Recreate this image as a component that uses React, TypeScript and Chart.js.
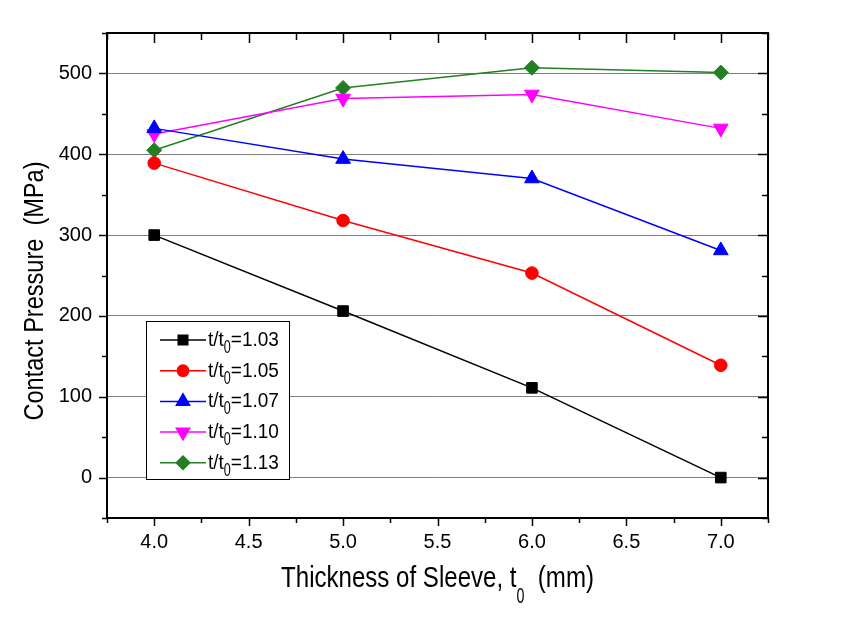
import React, { useEffect, useRef } from 'react';
import { Chart, registerables } from 'chart.js';
import { drawPoint } from 'chart.js/helpers';

Chart.register(...registerables);

// ---- data ----
const thickness = [4.0, 5.0, 6.0, 7.0];
const ratio103 = [300, 206, 111, 0];
const ratio105 = [389, 318, 253, 139];
const ratio107 = [432, 394, 370, 281];
const ratio110 = [425, 469, 474, 432];
const ratio113 = [405, 482, 507, 501];
const seriesValues = [ratio103, ratio105, ratio107, ratio110, ratio113];
const seriesRatios = ['1.03', '1.05', '1.07', '1.10', '1.13'];

const xMajorTicks = [4.0, 4.5, 5.0, 5.5, 6.0, 6.5, 7.0];
const xMinorTicks = [3.75, 4.25, 4.75, 5.25, 5.75, 6.25, 6.75, 7.25];
const yMajorTicks = [0, 100, 200, 300, 400, 500];
const yMinorTicks = [-50, 50, 150, 250, 350, 450, 550];
const xRange = [3.75, 7.25];
const yRange = [-50, 550];

const xTitleParts = ['Thickness of Sleeve, t', '0', '  (mm)'];
const yTitleText = 'Contact Pressure  (MPa)';
const legendPrefix = ['t/t', '0', '='];

// ---- styles ----
const seriesStyles = [
  { color: '#000000', pointStyle: 'rect', radius: 7.5, rotation: 0 },
  { color: '#ff0000', pointStyle: 'circle', radius: 6.3, rotation: 0 },
  { color: '#0000ff', pointStyle: 'triangle', radius: 8.5, rotation: 0 },
  { color: '#ff00ff', pointStyle: 'triangle', radius: 8.5, rotation: 180 },
  { color: '#237f23', pointStyle: 'rectRot', radius: 7.5, rotation: 0 },
];

const FONT = 'Arial, "Liberation Sans", sans-serif';

function drawScaled(ctx: CanvasRenderingContext2D, text: string, x: number, y: number, size: number, sx: number) {
  ctx.save();
  ctx.font = `${size}px ${FONT}`;
  ctx.translate(x, y);
  ctx.scale(sx, 1);
  ctx.fillText(text, 0, 0);
  const w = ctx.measureText(text).width * sx;
  ctx.restore();
  return w;
}
function measureScaled(ctx: CanvasRenderingContext2D, text: string, size: number, sx: number) {
  ctx.save();
  ctx.font = `${size}px ${FONT}`;
  const w = ctx.measureText(text).width * sx;
  ctx.restore();
  return w;
}

const decorPlugin = {
  id: 'decor',
  beforeDatasetsDraw(chart: any) {
    const { ctx, chartArea: a, scales } = chart;
    const xs = scales.x;
    const ys = scales.y;
    ctx.save();
    ctx.strokeStyle = '#000';
    ctx.lineWidth = 1.5;
    ctx.beginPath();
    const vx = (vals: number[], outLen: number, inLen: number) => {
      vals.forEach((v) => {
        const px = Math.round(xs.getPixelForValue(v)) + 0.5;
        ctx.moveTo(px, a.bottom);
        ctx.lineTo(px, a.bottom + outLen);
        ctx.moveTo(px, a.top);
        ctx.lineTo(px, a.top + inLen);
      });
    };
    const vy = (vals: number[], outLen: number, inLen: number) => {
      vals.forEach((v) => {
        const py = Math.round(ys.getPixelForValue(v)) + 0.5;
        ctx.moveTo(a.left, py);
        ctx.lineTo(a.left - outLen, py);
        ctx.moveTo(a.right, py);
        ctx.lineTo(a.right - inLen, py);
      });
    };
    vx(xMajorTicks, 8, 10);
    vx(xMinorTicks, 5, 7);
    vy(yMajorTicks, 8, 10);
    vy(yMinorTicks, 5, 6);
    ctx.stroke();
    ctx.lineWidth = 2;
    ctx.strokeRect(a.left, a.top, a.right - a.left, a.bottom - a.top);
    ctx.restore();
  },
  afterDraw(chart: any) {
    const { ctx, chartArea: a } = chart;
    ctx.save();
    ctx.fillStyle = '#000';
    ctx.textBaseline = 'alphabetic';
    ctx.textAlign = 'left';

    // legend box
    const lx = 146, ly = 321, lw = 143, lh = 158;
    ctx.fillStyle = '#fff';
    ctx.fillRect(lx, ly, lw, lh);
    ctx.strokeStyle = '#000';
    ctx.lineWidth = 1;
    ctx.strokeRect(lx + 0.5, ly + 0.5, lw, lh);
    seriesRatios.forEach((r, i) => {
      const st = seriesStyles[i];
      const y = 340 + i * 30.7;
      ctx.strokeStyle = st.color;
      ctx.lineWidth = 1.5;
      ctx.beginPath();
      ctx.moveTo(160, y);
      ctx.lineTo(206, y);
      ctx.stroke();
      ctx.fillStyle = st.color;
      drawPoint(ctx, { pointStyle: st.pointStyle as any, radius: st.radius * 0.9, rotation: st.rotation, borderWidth: 1 }, 183, y);
      ctx.fillStyle = '#000';
      let x = 208;
      x += drawScaled(ctx, legendPrefix[0], x, y + 6, 20, 0.95);
      x += drawScaled(ctx, legendPrefix[1], x, y + 13, 18, 0.7);
      x += drawScaled(ctx, legendPrefix[2] + r, x, y + 6, 20, 0.95);
    });

    // x title
    const mainSize = 29, mainSx = 0.83, subSize = 22, subSx = 0.65;
    const total =
      measureScaled(ctx, xTitleParts[0], mainSize, mainSx) +
      measureScaled(ctx, xTitleParts[1], subSize, subSx) +
      measureScaled(ctx, xTitleParts[2], mainSize, mainSx);
    let tx = (a.left + a.right) / 2 - total / 2;
    ctx.fillStyle = '#000';
    tx += drawScaled(ctx, xTitleParts[0], tx, 587, mainSize, mainSx);
    tx += drawScaled(ctx, xTitleParts[1], tx, 603, subSize, subSx);
    drawScaled(ctx, xTitleParts[2], tx, 587, mainSize, mainSx);

    // y title
    ctx.save();
    ctx.translate(43, 291);
    ctx.rotate(-Math.PI / 2);
    ctx.font = `27px ${FONT}`;
    const w = ctx.measureText(yTitleText).width;
    const sx = 259 / w;
    ctx.scale(sx, 1);
    ctx.textAlign = 'center';
    ctx.fillText(yTitleText, 0, 0);
    ctx.restore();

    ctx.restore();
  },
};

export default function App() {
  const ref = useRef<HTMLCanvasElement | null>(null);
  useEffect(() => {
    if (!ref.current) return;
    const datasets = seriesValues.map((vals, i) => {
      const st = seriesStyles[i];
      return {
        label: 't/t0=' + seriesRatios[i],
        data: thickness.map((x, j) => ({ x, y: vals[j] })),
        borderColor: st.color,
        backgroundColor: st.color,
        borderWidth: 1.5,
        pointStyle: st.pointStyle as any,
        pointRadius: st.radius,
        pointRotation: st.rotation,
        pointBackgroundColor: st.color,
        pointBorderColor: st.color,
        pointBorderWidth: 1,
        tension: 0,
      };
    });
    const chart = new Chart(ref.current, {
      type: 'line',
      data: { datasets },
      plugins: [decorPlugin],
      options: {
        animation: false,
        responsive: false,
        maintainAspectRatio: false,
        layout: { padding: { top: 33, right: 90, left: 0, bottom: 0 } },
        plugins: { legend: { display: false }, tooltip: { enabled: false }, title: { display: false } },
        scales: {
          x: {
            type: 'linear',
            min: xRange[0],
            max: xRange[1],
            afterBuildTicks: (s: any) => { s.ticks = xMajorTicks.map((v) => ({ value: v })); },
            afterFit: (s: any) => { s.height = 632 - 518; },
            grid: { display: false, drawTicks: false },
            border: { display: false },
            ticks: {
              padding: 12,
              color: '#000',
              font: { family: FONT, size: 20 },
              maxRotation: 0,
              callback: (v: any) => Number(v).toFixed(1),
            },
          },
          y: {
            type: 'linear',
            min: yRange[0],
            max: yRange[1],
            afterBuildTicks: (s: any) => { s.ticks = yMajorTicks.map((v) => ({ value: v })); },
            afterFit: (s: any) => { s.width = 107; },
            grid: { display: true, drawTicks: false, color: '#808080', lineWidth: 1 },
            border: { display: false },
            ticks: {
              padding: 15,
              color: '#000',
              font: { family: FONT, size: 20 },
              callback: (v: any) => String(v),
            },
          },
        },
      },
    });
    return () => chart.destroy();
  }, []);
  return (
    <div style={{ position: 'fixed', left: 0, top: 0, width: 858, height: 632, background: '#fff' }}>
      <canvas ref={ref} width={858} height={632} style={{ width: 858, height: 632, display: 'block' }} />
    </div>
  );
}
